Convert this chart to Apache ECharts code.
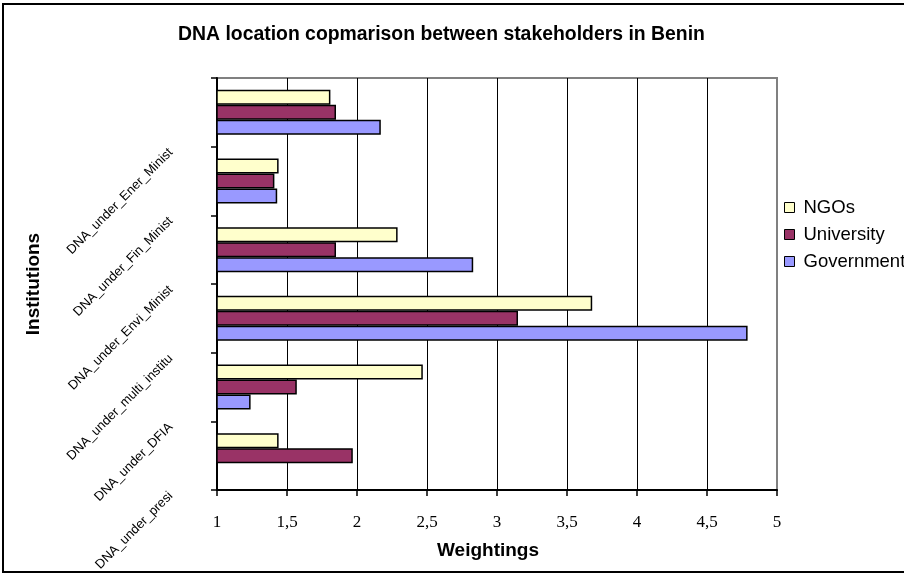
<!DOCTYPE html>
<html>
<head>
<meta charset="utf-8">
<script src="https://cdn.jsdelivr.net/npm/echarts@6/dist/echarts.min.js"></script>
<style>
html,body{margin:0;padding:0;background:#fff;}
#c{width:904px;height:577px;}
</style>
</head>
<body>
<div id="c"></div>
<script>
// Categories, listed bottom to top
const categories = ['DNA_under_presi', 'DNA_under_DFIA', 'DNA_under_multi_institu', 'DNA_under_Envi_Minist', 'DNA_under_Fin_Minist', 'DNA_under_Ener_Minist'];
const ngos = [1.44, 2.47, 3.68, 2.29, 1.44, 1.81];
const university = [1.97, 1.57, 3.15, 1.85, 1.41, 1.85];
const government = [null, 1.24, 4.79, 2.83, 1.43, 2.17];
const seriesNames = ['NGOs', 'University', 'Government'];

const chart = echarts.init(document.getElementById('c'), null, {renderer: 'canvas'});
function bar(name, data, color) {
  return {
    name: name, type: 'bar', data: data, barWidth: 15, barGap: '0%',
    itemStyle: {color: color, borderColor: '#000', borderWidth: 1.5},
    emphasis: {disabled: true}, animation: false
  };
}
chart.setOption({
  animation: false,
  backgroundColor: '#fff',
  title: {
    text: 'DNA location copmarison between stakeholders in Benin',
    left: 173, top: 20,
    textStyle: {fontFamily: 'Liberation Sans, Arial', fontWeight: 'bold', fontSize: 19.4, color: '#000'}
  },
  legend: {
    data: seriesNames,
    orient: 'vertical', left: 779, top: 193, itemGap: 8,
    itemWidth: 10, itemHeight: 10, icon: 'rect',
    itemStyle: {borderColor: '#000', borderWidth: 1},
    textStyle: {fontFamily: 'Liberation Sans, Arial', fontSize: 18.5, color: '#000', lineHeight: 18, padding: [0, 0, 0, 4]}
  },
  grid: {left: 217, right: 127, top: 78, bottom: 87, show: true, borderColor: '#808080', borderWidth: 2, backgroundColor: '#fff'},
  xAxis: {
    type: 'value', min: 1, max: 5, interval: 0.5,
    name: 'Weightings', nameLocation: 'middle', nameGap: 51,
    nameTextStyle: {fontFamily: 'Liberation Sans, Arial', fontWeight: 'bold', fontSize: 19, color: '#000', padding: [0, 18, 0, 0]},
    axisLine: {show: true, lineStyle: {color: '#000', width: 2}},
    axisTick: {show: true, length: 6, lineStyle: {color: '#000', width: 1.5}},
    axisLabel: {
      margin: 24, fontFamily: 'Liberation Serif, Times New Roman', fontSize: 17, color: '#000',
      formatter: function (v) { return String(v).replace('.', ','); }
    },
    splitLine: {show: true, showMaxLine: false, lineStyle: {color: '#000', width: 1}}
  },
  yAxis: {
    type: 'category', data: categories,
    name: 'Institutions', nameLocation: 'middle', nameGap: 174, nameRotate: 90,
    nameTextStyle: {fontFamily: 'Liberation Sans, Arial', fontWeight: 'bold', fontSize: 19, color: '#000'},
    axisLine: {show: true, lineStyle: {color: '#000', width: 2}},
    axisTick: {show: true, length: 6, lineStyle: {color: '#000', width: 1.5}},
    axisLabel: {
      rotate: 45, margin: 8, interval: 0, padding: [0, 54, 0, 0],
      fontFamily: 'Liberation Sans, Arial', fontSize: 13, color: '#000'
    },
    splitLine: {show: false}
  },
  graphic: [{
    type: 'rect', shape: {x: 3, y: 4, width: 1000, height: 568},
    style: {fill: 'none', stroke: '#000', lineWidth: 2}, silent: true, z: 100
  }],
  series: [
    bar(seriesNames[0], ngos, '#FFFFCC'),
    bar(seriesNames[1], university, '#993366'),
    bar(seriesNames[2], government, '#9999FF')
  ]
});
</script>
</body>
</html>
